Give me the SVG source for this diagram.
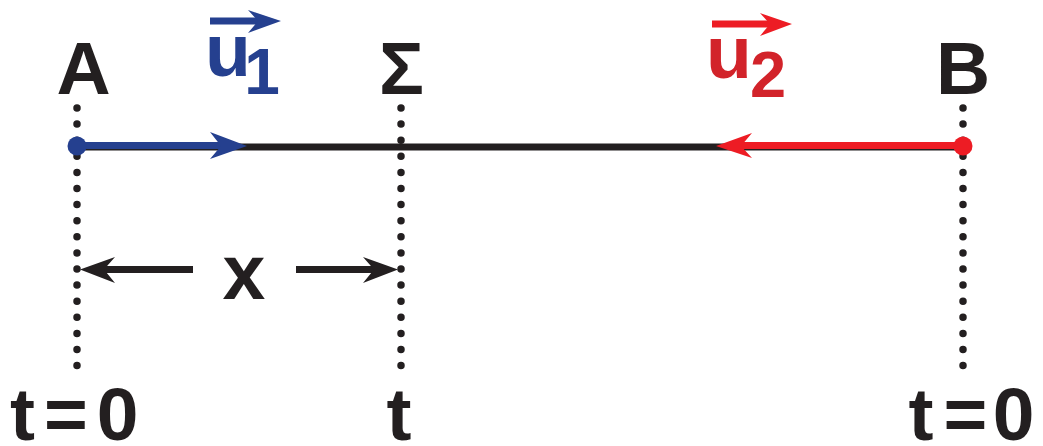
<svg xmlns="http://www.w3.org/2000/svg" width="1043" height="446" viewBox="0 0 1043 446">
<style>
.lbl{font-family:"Liberation Sans",Arial,sans-serif;font-weight:bold;fill:#231F20;text-anchor:middle}
.dots{stroke:#231F20;stroke-width:7.5;stroke-linecap:round;stroke-dasharray:0 16.1;fill:none}
.blue{fill:#25408F}
.red{fill:#ED1C24}
</style>
<rect width="1043" height="446" fill="#fff"/>
<g id="connectors">
<line class="dots" x1="77" y1="108" x2="77" y2="366"/>
<line class="dots" x1="401" y1="108" x2="401" y2="366"/>
<line class="dots" x1="963" y1="108" x2="963" y2="366"/>
<line x1="77" y1="147" x2="963" y2="147" stroke="#231F20" stroke-width="7"/>
<g id="u1-arrow">
<line x1="77" y1="145.5" x2="224" y2="145.5" stroke="#25408F" stroke-width="7"/>
<path class="blue" d="M247,146 L210,132 L221,146 L210,159 Z"/>
</g>
<g id="u2-arrow">
<line x1="963" y1="145.5" x2="740" y2="145.5" stroke="#ED1C24" stroke-width="7"/>
<path class="red" d="M716,146 L752,133 L741,146 L752,158 Z"/>
</g>
<g id="x-dimension" fill="#231F20">
<line x1="104" y1="269.5" x2="193" y2="269.5" stroke="#231F20" stroke-width="7"/>
<path d="M80,269.5 L115,257 L104,269.5 L115,283 Z"/>
<line x1="296" y1="269.5" x2="374" y2="269.5" stroke="#231F20" stroke-width="7"/>
<path d="M398,269.5 L363,257 L374,269.5 L363,283 Z"/>
</g>
</g>
<g id="node-A">
<circle cx="77" cy="146" r="9.5" fill="#25408F"/>
<text class="lbl" x="83.5" y="94" font-size="75">A</text>
<text class="lbl" x="22.5" y="440" font-size="75">t</text>
<text class="lbl" x="66" y="440" font-size="75">=</text>
<text class="lbl" x="117.5" y="440" font-size="75">0</text>
</g>
<g id="node-Sigma">
<text class="lbl" x="401.5" y="94" font-size="75">Σ</text>
<text class="lbl" x="399" y="440" font-size="75">t</text>
</g>
<g id="node-B">
<circle cx="963" cy="146" r="9.5" fill="#ED1C24"/>
<text class="lbl" x="963" y="94" font-size="75">B</text>
<text class="lbl" x="921" y="440" font-size="75">t</text>
<text class="lbl" x="965.5" y="440" font-size="75">=</text>
<text class="lbl" x="1013.5" y="440" font-size="75">0</text>
</g>
<g id="label-u1">
<line x1="210" y1="21" x2="262" y2="21" stroke="#25408F" stroke-width="7"/>
<path class="blue" d="M281,21 L248,10 L258,21 L248,33 Z"/>
<text class="lbl" x="228" y="76" font-size="75" style="fill:#25408F">u</text>
<text class="lbl" x="262" y="94" font-size="64" style="fill:#25408F">1</text>
</g>
<g id="label-u2">
<line x1="712" y1="24" x2="774" y2="24" stroke="#ED1C24" stroke-width="7"/>
<path class="red" d="M792,24 L760,13 L770,24 L760,36 Z"/>
<text class="lbl" x="729" y="78" font-size="75" style="fill:#D2232A">u</text>
<text class="lbl" x="768" y="97" font-size="65" style="fill:#D2232A">2</text>
</g>
<g id="label-x">
<text class="lbl" x="244" y="299" font-size="77">x</text>
</g>
</svg>
